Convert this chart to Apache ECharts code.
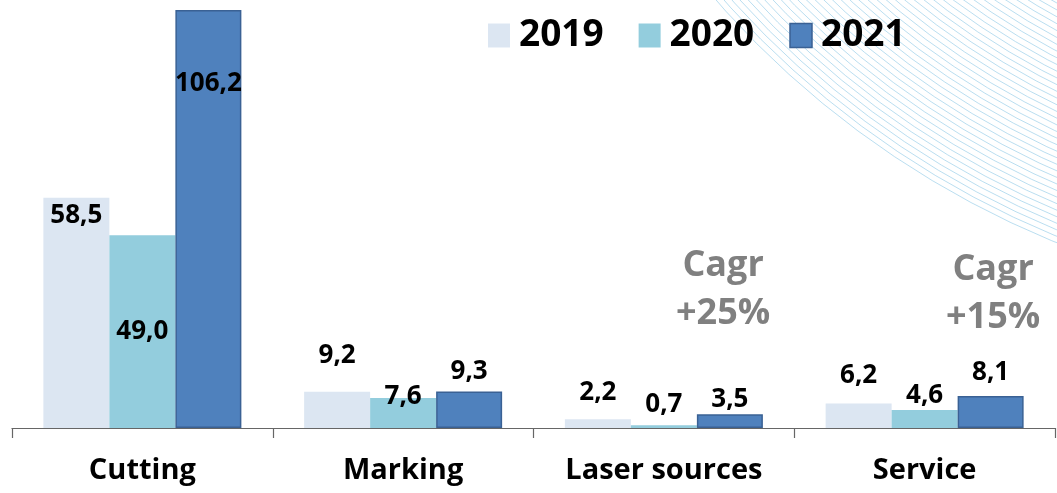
<!DOCTYPE html>
<html>
<head>
<meta charset="utf-8">
<script src="https://cdn.jsdelivr.net/npm/echarts@6/dist/echarts.min.js"></script>
<style>
html,body{margin:0;padding:0;background:#fff;}
#chart{width:1057px;height:493px;}
</style>
</head>
<body>
<div id="chart"></div>
<script>
// ---- data ----
const categories = ['Cutting', 'Marking', 'Laser sources', 'Service'];
const seriesNames = ['2019', '2020', '2021'];
const values2019 = [58.5, 9.2, 2.2, 6.2];
const values2020 = [49.0, 7.6, 0.7, 4.6];
const values2021 = [106.2, 9.3, 3.5, 8.1];
const cagrNotes = ['Cagr\n+25%', 'Cagr\n+15%'];

// ---- styling (kept separate from data) ----
const colors = ['#dce6f2', '#93cddd', '#4f81bd'];
const borders = ['#dce6f2', '#93cddd', '#3a6194'];
const FONT = '"Open Sans", Lato, sans-serif';
// label placement per series / category
const labelStyles = [
  [{position:'insideTop', distance:5}, {position:'top', distance:23}, {position:'top', distance:14}, {position:'top', distance:15}],
  [{position:'inside'}, {position:'top', distance:0, offset:[0,12]}, {position:'top', distance:8}, {position:'top', distance:1}],
  [{position:'insideTop', distance:61}, {position:'top', distance:7}, {position:'top', distance:2}, {position:'top', distance:11}]
];
const allValues = [values2019, values2020, values2021];

function fmt(v){ return v.toFixed(1).replace('.', ','); }

const series = seriesNames.map((name, si) => ({
  name,
  type: 'bar',
  barWidth: 66,
  barGap: '0%',
  itemStyle: {color: colors[si], borderColor: borders[si], borderWidth: si === 2 ? 1.5 : 0},
  label: {show: true, color: '#000', fontFamily: FONT, fontWeight: 'bold', fontSize: 26,
          formatter: p => fmt(p.value)},
  data: allValues[si].map((v, ci) => ({value: v, label: labelStyles[si][ci]}))
}));

// decorative background arcs (top right)
const arcs = [];
for (let r = 688; r <= 912; r += 6) {
  arcs.push({type:'circle', shape:{cx:1400, cy:-600, r:r}, silent:true, z:-10,
    style:{fill:null, stroke:'rgba(140,200,230,0.6)', lineWidth:1}});
}

const chart = echarts.init(document.getElementById('chart'), null, {renderer:'canvas'});
chart.setOption({
  animation: false,
  backgroundColor: '#fff',
  color: colors,
  grid: {left: 12, right: 2, top: 10, bottom: 65, containLabel: false},
  legend: {
    data: seriesNames.map((n, i) => ({name: n, itemStyle: {color: colors[i], borderColor: borders[i], borderWidth: i === 2 ? 1.5 : 0}})),
    left: 483, top: 12, itemWidth: 22, itemHeight: 24, itemGap: 35, icon: 'rect',
    textStyle: {fontFamily: FONT, fontWeight: 'bold', fontSize: 37, color: '#000', padding:[0,0,0,4]}
  },
  xAxis: {
    type: 'category', data: categories,
    axisLine: {lineStyle: {color: '#666', width: 1.2}},
    axisTick: {show: true, length: 10, lineStyle: {color: '#666', width: 1.2}},
    axisLabel: {color: '#000', fontFamily: FONT, fontWeight: 'bold', fontSize: 29, margin: 28}
  },
  yAxis: {type: 'value', min: 0, max: 106.2, show: false, splitLine: {show: false}},
  graphic: arcs.concat([
    {type:'text', left: 676, top: 242, z: 10, style:{text: cagrNotes[0], fill:'#808080', font:'bold 36px "Open Sans", Lato, sans-serif', textAlign:'center', lineHeight: 48}},
    {type:'text', left: 946, top: 246, z: 10, style:{text: cagrNotes[1], fill:'#808080', font:'bold 36px "Open Sans", Lato, sans-serif', textAlign:'center', lineHeight: 48}}
  ]),
  series
});
</script>
</body>
</html>
